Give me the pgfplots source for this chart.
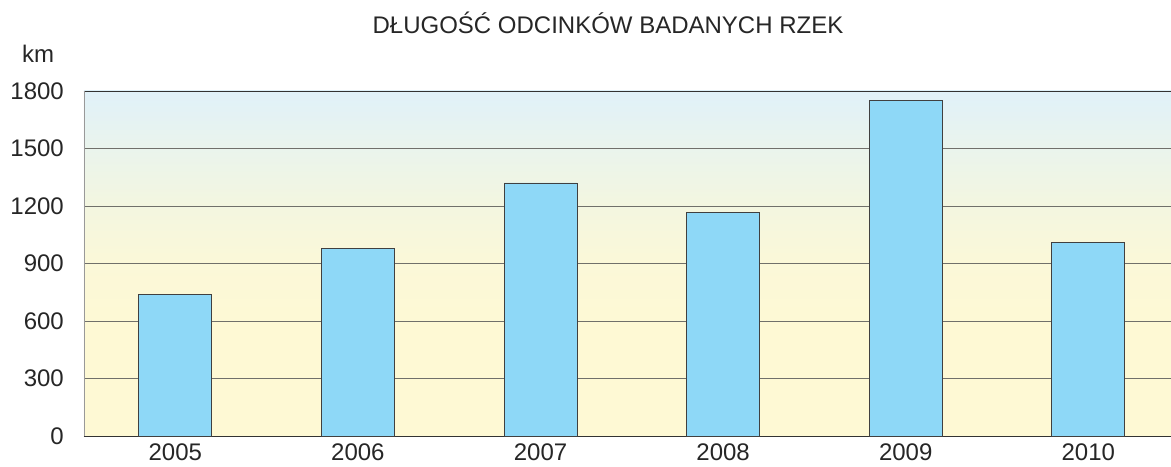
\documentclass[border=0pt]{standalone}
\usepackage{pgfplots}
\pgfplotsset{compat=1.18}
\usepackage{fontspec}
\setmainfont{Liberation Sans}
\definecolor{barfill}{HTML}{8ED8F7}
\definecolor{baredge}{HTML}{404040}
\definecolor{gridc}{HTML}{70706A}
\definecolor{bgtop}{HTML}{E0F1F9}
\definecolor{bgA}{HTML}{EAF4EC}
\definecolor{bgB}{HTML}{F3F6E0}
\definecolor{bgC}{HTML}{FBF8D8}
\definecolor{bgbot}{HTML}{FEF9D4}
\pgfdeclareverticalshading{chartbg}{100bp}{color(0bp)=(bgbot); color(25bp)=(bgbot); color(40bp)=(bgbot); color(50bp)=(bgC); color(58.5bp)=(bgB); color(66.5bp)=(bgA); color(75bp)=(bgtop); color(100bp)=(bgtop)}
\begin{document}
\begin{tikzpicture}
\begin{axis}[
  name=ax,
  at={(0,0)}, anchor=south west,
  scale only axis,
  width=1087bp, height=345bp,
  xmin=-0.5, xmax=5.453,
  ymin=0, ymax=1800,
  ytick={0,300,600,900,1200,1500,1800},
  xtick={0,1,2,3,4,5},
  xticklabels={2005,2006,2007,2008,2009,2010},
  axis x line*=box,
  axis y line*=left,
  x axis line style={draw=black!80, line width=0.9pt},
  y axis line style={draw=black!40, line width=0.9pt},
  major tick length=0pt,
  ymajorgrids,
  grid style={draw=gridc, line width=0.9pt},
  tick label style={font=\fontsize{24bp}{26bp}\selectfont, text=black!85},
  yticklabel style={inner sep=0pt, xshift=-20bp},
  xticklabel style={inner sep=0pt, yshift=-8bp},
  /pgf/number format/assume math mode=true,
  /pgf/number format/1000 sep={},
  axis background/.style={shading=chartbg},
  ybar, bar width=73bp,
]
\addplot[fill=barfill, draw=baredge, line width=0.9pt] coordinates {
  (0,740) (1,980) (2,1320) (3,1165) (4,1750) (5,1010)
};
\end{axis}
\node[anchor=base, inner sep=0pt, font=\fontsize{24bp}{26bp}\selectfont, text=black!85] at (524bp,402bp) {DŁUGOŚĆ ODCINKÓW BADANYCH RZEK};
\node[anchor=base, inner sep=0pt, font=\fontsize{24bp}{26bp}\selectfont, text=black!85] at (-46bp,373.3bp) {km};
\pgfresetboundingbox
\useasboundingbox (-84bp,-31bp) rectangle (1087bp,436bp);
\end{tikzpicture}
\end{document}
